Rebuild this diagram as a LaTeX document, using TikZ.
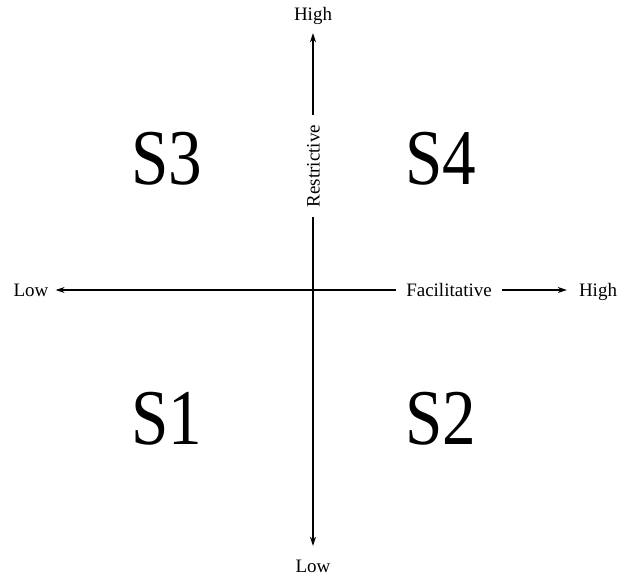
\documentclass[tikz,border=0pt]{standalone}
\usepackage{fontspec}
\setmainfont{Liberation Serif}
\usetikzlibrary{arrows.meta,positioning}

\begin{document}
\begin{tikzpicture}[x=1pt,y=-1pt,
  axis/.style={line width=1.3pt, black},
  axarrow/.style={axis, -{Stealth[length=9pt,width=6pt]}},
  axlabel/.style={font=\fontsize{19}{19}\selectfont, inner sep=0pt, text height=14pt, text depth=1pt},
  quad/.style={font=\fontsize{79}{79}\selectfont, inner sep=0pt, xscale=0.85},
]
\useasboundingbox (0,0) rectangle (627,579);
% axes crossing point
\coordinate (o) at (313,290);
% end labels
\node[axlabel] (highT) at (313,13.5) {High};
\node[axlabel] (lowB) at (313,565.5) {Low};
\node[axlabel] (lowL) at (31,290) {Low};
\node[axlabel] (highR) at (598,290) {High};
% axis names
\node[axlabel, rotate=90, inner xsep=10pt] (restr) at (313,166) {Restrictive};
\node[axlabel, inner xsep=10pt] (facil) at (449,290) {Facilitative};
% vertical axis
\draw[axis] (o) -- (restr);
\draw[axarrow, shorten >=12pt] (restr) -- (highT);
\draw[axarrow, shorten >=12pt] (o) -- (lowB);
% horizontal axis
\draw[axarrow, shorten >=7pt] (o) -- (lowL);
\draw[axis] (o) -- (facil);
\draw[axarrow, shorten >=12pt] (facil) -- (highR);
% quadrants
\node[quad] (s3) at (167,159) {S3};
\node[quad] (s4) at (441,159) {S4};
\node[quad] (s1) at (167,419) {S1};
\node[quad] (s2) at (441,419) {S2};
\end{tikzpicture}
\end{document}
